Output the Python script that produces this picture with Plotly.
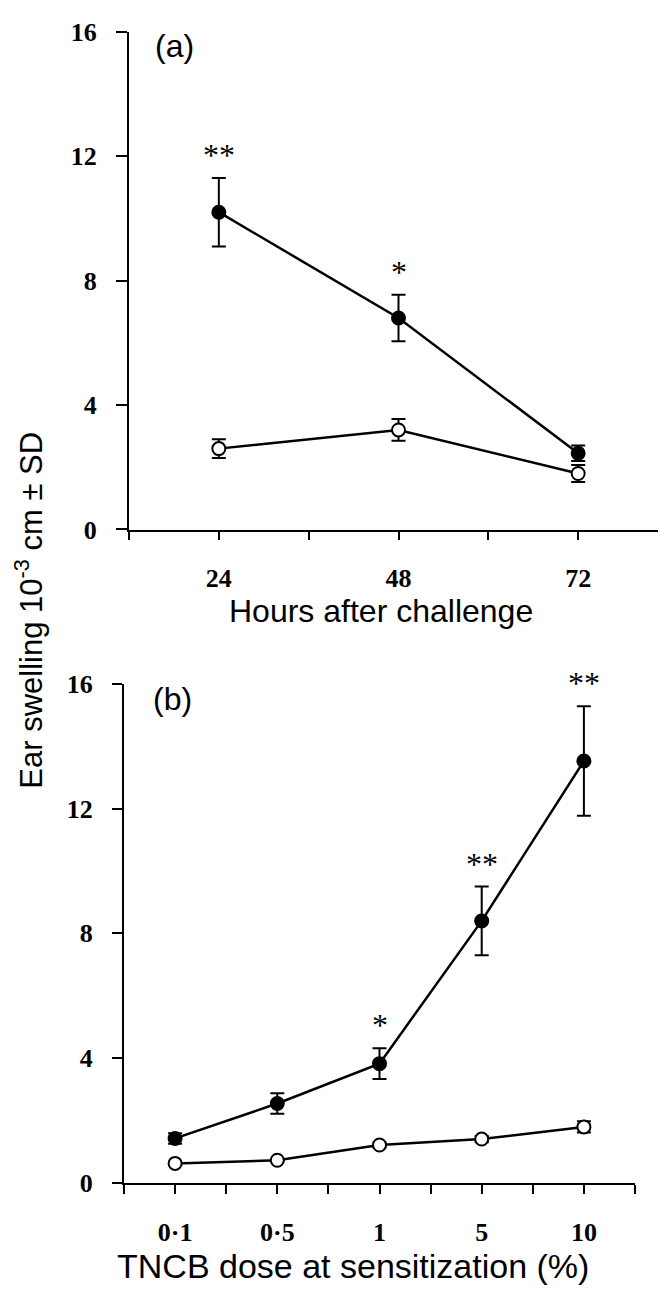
import plotly.graph_objects as go

# ---------------- data ----------------
# Panel (a): hours after challenge
hours = [24, 48, 72]
hour_labels = ["24", "48", "72"]
a_filled = [10.2, 6.8, 2.45]
a_filled_sd = [1.1, 0.75, 0.25]
a_open = [2.6, 3.2, 1.8]
a_open_sd = [0.3, 0.35, 0.27]
a_stars = ["**", "*", ""]

# Panel (b): TNCB dose at sensitization
doses = ["0·1", "0·5", "1", "5", "10"]
dose_pos = [1, 2, 3, 4, 5]
b_filled = [1.42, 2.54, 3.82, 8.4, 13.53]
b_filled_sd = [0.17, 0.33, 0.49, 1.1, 1.76]
b_open = [0.62, 0.72, 1.21, 1.40, 1.79]
b_open_sd = [0.05, 0.05, 0.08, 0.1, 0.18]
b_stars = ["", "", "*", "**", "**"]

y_ticks = [0, 4, 8, 12, 16]

W, H = 666, 1309

def dom_x(x0, x1):
    return [x0 / W, x1 / W]

def dom_y(top, bottom):
    return [1 - bottom / H, 1 - top / H]

fig = go.Figure()

def add_series(x, y, sd, filled, xa, ya):
    fig.add_trace(go.Scatter(
        x=x, y=y, mode="lines+markers",
        xaxis=xa, yaxis=ya,
        line=dict(color="black", width=2.5),
        marker=dict(size=13, color="black" if filled else "white",
                    line=dict(color="black", width=2)),
        error_y=dict(type="data", array=sd, visible=True,
                     color="black", thickness=2, width=7),
        showlegend=False, cliponaxis=False,
    ))

add_series(hours, a_filled, a_filled_sd, True, "x", "y")
add_series(hours, a_open, a_open_sd, False, "x", "y")
add_series(dose_pos, b_filled, b_filled_sd, True, "x2", "y2")
add_series(dose_pos, b_open, b_open_sd, False, "x2", "y2")

tickfont = dict(family="Liberation Serif", size=26, color="black",
                weight="bold")
axis_common = dict(showline=True, linecolor="black", linewidth=2,
                   ticks="outside", tickcolor="black", tickwidth=2,
                   showgrid=False, zeroline=False, tickfont=tickfont)

fig.update_layout(
    width=W, height=H,
    margin=dict(l=0, r=0, t=0, b=0),
    plot_bgcolor="white", paper_bgcolor="white",
    xaxis=dict(domain=dom_x(121, 660), range=[12, 84],
               tickvals=hours, ticktext=hour_labels,
               ticklen=8, anchor="y", ticklabelstandoff=16,
               minor=dict(tick0=12, dtick=12, ticks="outside", ticklen=8,
                          tickwidth=2, tickcolor="black", showgrid=False),
               **axis_common),
    yaxis=dict(domain=dom_y(10, 519), range=[0, 16], tickvals=y_ticks,
               ticklen=11, anchor="x", ticklabelstandoff=14, **axis_common),
    xaxis2=dict(domain=dom_x(116, 627), range=[0.5, 5.5],
                tickvals=dose_pos, ticktext=doses,
                ticklen=9, anchor="y2", ticklabelstandoff=16,
                minor=dict(tick0=0.5, dtick=0.5, ticks="outside", ticklen=9,
                           tickwidth=2, tickcolor="black", showgrid=False),
                **axis_common),
    yaxis2=dict(domain=dom_y(677, 1187), range=[0, 16], tickvals=y_ticks,
                ticklen=10, anchor="x2", ticklabelstandoff=14, **axis_common),
)

star_font = dict(family="Liberation Serif", size=32, color="black")
for x, y, sd, s in zip(hours, a_filled, a_filled_sd, a_stars):
    if s:
        fig.add_annotation(x=x, y=y + sd, xref="x", yref="y", text=s,
                           showarrow=False, yanchor="bottom", yshift=3,
                           font=star_font)
for x, y, sd, s in zip(dose_pos, b_filled, b_filled_sd, b_stars):
    if s:
        fig.add_annotation(x=x, y=y + sd, xref="x2", yref="y2", text=s,
                           showarrow=False, yanchor="bottom", yshift=3,
                           font=star_font)

label_font = dict(family="Liberation Sans", size=32, color="black")
fig.add_annotation(x=145 / W, y=1 - 25 / H, xref="paper", yref="paper",
                   text="(a)", showarrow=False, xanchor="left",
                   yanchor="middle", font=label_font)
fig.add_annotation(x=143 / W, y=1 - 692 / H, xref="paper", yref="paper",
                   text="(b)", showarrow=False, xanchor="left",
                   yanchor="middle", font=label_font)

title_font = dict(family="Liberation Sans", size=32, color="black")
fig.add_annotation(x=373 / W, y=1 - 602 / H, xref="paper", yref="paper",
                   text="Hours after challenge", showarrow=False,
                   xanchor="center", yanchor="middle", font=title_font)
fig.add_annotation(x=345 / W, y=1 - 1272 / H, xref="paper", yref="paper",
                   text="TNCB dose at sensitization (%)", showarrow=False,
                   xanchor="center", yanchor="middle",
                   font=dict(family="Liberation Sans", size=34, color="black"))
fig.add_annotation(x=21 / W, y=1 - 602 / H, xref="paper", yref="paper",
                   text="Ear swelling 10<sup>-3</sup> cm ± SD", showarrow=False,
                   textangle=-90, xanchor="center", yanchor="middle",
                   font=dict(family="Liberation Sans", size=31, color="black"))

fig.write_html("out.html")
